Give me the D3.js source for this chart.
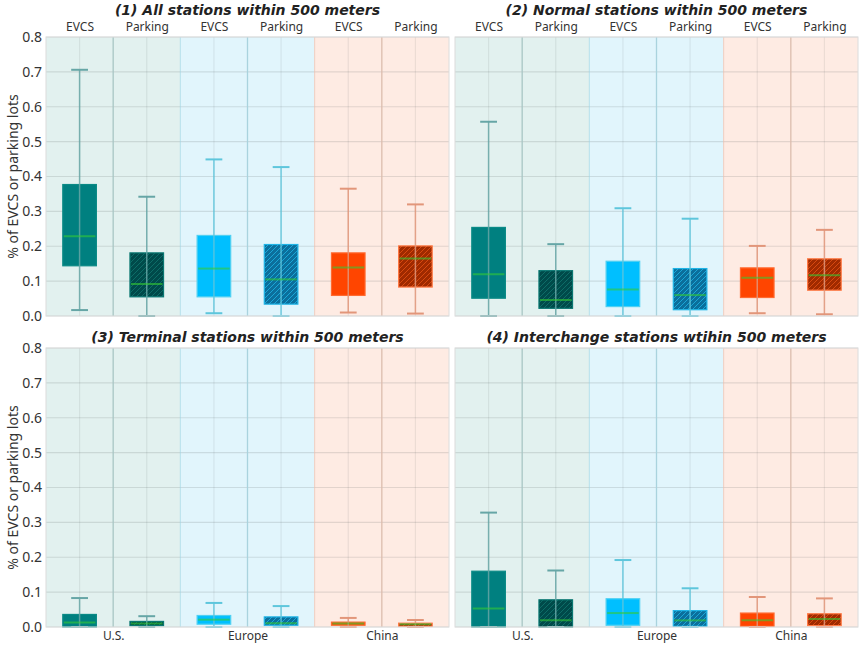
<!DOCTYPE html>
<html>
<head>
<meta charset="utf-8">
<script src="https://cdn.jsdelivr.net/npm/d3@7"></script>
<style>
  body { margin: 0; background: #fff; }
  svg text { font-family: "Noto Sans", sans-serif; }
</style>
</head>
<body>
<div id="chart"></div>
<script>
// regions and the two measures shown for each one
var regions = ["U.S.", "Europe", "China"];
var measures = ["EVCS", "Parking", "EVCS", "Parking", "EVCS", "Parking"];
var titles = [
  "(1) All stations within 500 meters",
  "(2) Normal stations within 500 meters",
  "(3) Terminal stations within 500 meters",
  "(4) Interchange stations wtihin 500 meters"
];
var yTicks = [0, 0.1, 0.2, 0.3, 0.4, 0.5, 0.6, 0.7, 0.8];

// box statistics, one row per panel, six boxes per row
var whiskerHi = [
  [0.706, 0.342, 0.449, 0.427, 0.365, 0.320],
  [0.557, 0.206, 0.309, 0.279, 0.201, 0.247],
  [0.083, 0.031, 0.069, 0.060, 0.026, 0.020],
  [0.328, 0.162, 0.192, 0.111, 0.086, 0.082]
];
var q3 = [
  [0.377, 0.181, 0.231, 0.205, 0.181, 0.201],
  [0.254, 0.130, 0.157, 0.136, 0.138, 0.164],
  [0.036, 0.016, 0.033, 0.029, 0.014, 0.011],
  [0.160, 0.078, 0.081, 0.047, 0.040, 0.038]
];
var median = [
  [0.229, 0.092, 0.136, 0.105, 0.139, 0.165],
  [0.120, 0.046, 0.076, 0.060, 0.110, 0.117],
  [0.013, 0.010, 0.021, 0.011, 0.010, 0.008],
  [0.053, 0.019, 0.040, 0.019, 0.019, 0.023]
];
var q1 = [
  [0.144, 0.055, 0.055, 0.034, 0.059, 0.083],
  [0.051, 0.022, 0.027, 0.018, 0.053, 0.074],
  [0.000, 0.004, 0.008, 0.005, 0.005, 0.002],
  [0.000, 0.000, 0.005, 0.002, 0.002, 0.004]
];
var whiskerLo = [
  [0.017, 0.000, 0.008, 0.000, 0.010, 0.007],
  [0.000, 0.000, 0.000, 0.000, 0.008, 0.005],
  [0.000, 0.000, 0.000, 0.000, 0.000, 0.000],
  [0.000, 0.000, 0.000, 0.000, 0.000, 0.000]
];

// styling per box
var boxFill   = ["#008080", "#004a4a", "#00bfff", "#0b6f9c", "#ff4500", "#a02a00"];
var boxEdge   = ["#0a8a86", "#0a7872", "#4fd0f2", "#1fb4e6", "#ff6a30", "#ff7a45"];
var hatchCol  = [null, "#0d6d68", null, "#1aa6d8", null, "#d84a10"];
var whiskCol  = ["#66a6a6", "#66a6a6", "#5ec6dc", "#5ec6dc", "#e2967a", "#e2967a"];
var bandFill  = ["#e2f1ef", "#e1f5fc", "#feebe3"];
var divCol    = ["#a9c6c4", "#a9d3de", "#dcbcae"];

var W = 865, H = 649;
var panels = [
  {x: 46, y: 37, w: 403, h: 279},
  {x: 455, y: 37, w: 403, h: 279},
  {x: 46, y: 348, w: 403, h: 279},
  {x: 455, y: 348, w: 403, h: 279}
];

var svg = d3.select("#chart").append("svg")
  .attr("width", W)
  .attr("height", H);

var defs = svg.append("defs");
hatchCol.forEach(function(c, i) {
  if (!c) return;
  var p = defs.append("pattern")
    .attr("id", "hatch" + i)
    .attr("patternUnits", "userSpaceOnUse")
    .attr("width", 5)
    .attr("height", 5);
  p.append("rect").attr("width", 5).attr("height", 5).attr("fill", boxFill[i]);
  p.append("path")
    .attr("d", "M-1,1 l2,-2 M0,5 l5,-5 M4,6 l2,-2")
    .attr("stroke", c)
    .attr("stroke-width", 1);
});

panels.forEach(function(pn, k) {
  var g = svg.append("g")
    .attr("transform", "translate(" + pn.x + "," + pn.y + ")");

  var x = d3.scaleLinear().domain([0.5, 6.5]).range([0, pn.w]);
  var y = d3.scaleLinear().domain([0, 0.8]).range([pn.h, 0]);

  // coloured bands behind each region
  g.selectAll(".band")
    .data(regions)
    .enter()
    .append("rect")
    .attr("x", function(d, i) { return x(0.5 + i * 2); })
    .attr("y", 0)
    .attr("width", x(2.5) - x(0.5))
    .attr("height", pn.h)
    .attr("fill", function(d, i) { return bandFill[i]; });

  // horizontal grid
  g.selectAll(".hgrid")
    .data(yTicks)
    .enter()
    .append("line")
    .attr("x1", 0).attr("x2", pn.w)
    .attr("y1", function(d) { return y(d); })
    .attr("y2", function(d) { return y(d); })
    .attr("stroke", "rgba(80,90,90,0.16)")
    .attr("stroke-width", 1.2);

  // light grid at each box position
  g.selectAll(".vgrid")
    .data(measures)
    .enter()
    .append("line")
    .attr("x1", function(d, i) { return x(i + 1); })
    .attr("x2", function(d, i) { return x(i + 1); })
    .attr("y1", 0).attr("y2", pn.h)
    .attr("stroke", "rgba(80,90,90,0.1)")
    .attr("stroke-width", 1.2);

  // region dividers and band edges
  [1.5, 3.5, 5.5].forEach(function(v, i) {
    g.append("line")
      .attr("x1", x(v)).attr("x2", x(v))
      .attr("y1", 0).attr("y2", pn.h)
      .attr("stroke", divCol[i])
      .attr("stroke-width", 1.3);
  });
  [2.5, 4.5].forEach(function(v, i) {
    g.append("line")
      .attr("x1", x(v)).attr("x2", x(v))
      .attr("y1", 0).attr("y2", pn.h)
      .attr("stroke", i == 0 ? "rgba(150,210,225,0.6)" : "rgba(240,190,170,0.7)")
      .attr("stroke-width", 1);
  });

  var data = measures.map(function(m, i) {
    return {
      pos: i + 1,
      idx: i,
      lo: whiskerLo[k][i],
      q1: q1[k][i],
      med: median[k][i],
      q3: q3[k][i],
      hi: whiskerHi[k][i]
    };
  });

  var boxW = x(1.5) - x(1);
  var capW = boxW / 2;

  // boxes
  g.selectAll(".box")
    .data(data)
    .enter()
    .append("rect")
    .attr("class", "box")
    .attr("x", function(d) { return x(d.pos) - boxW / 2; })
    .attr("y", function(d) { return y(d.q3); })
    .attr("width", boxW)
    .attr("height", function(d) { return Math.max(y(d.q1) - y(d.q3), 1); })
    .attr("fill", function(d) { return hatchCol[d.idx] ? "url(#hatch" + d.idx + ")" : boxFill[d.idx]; })
    .attr("stroke", function(d) { return boxEdge[d.idx]; })
    .attr("stroke-width", 1.2);

  // whisker line through the box
  g.selectAll(".whisk")
    .data(data)
    .enter()
    .append("line")
    .attr("x1", function(d) { return x(d.pos); })
    .attr("x2", function(d) { return x(d.pos); })
    .attr("y1", function(d) { return y(d.lo); })
    .attr("y2", function(d) { return y(d.hi); })
    .attr("stroke", function(d) { return whiskCol[d.idx]; })
    .attr("stroke-opacity", 0.85)
    .attr("stroke-width", 1.5);

  // caps
  ["lo", "hi"].forEach(function(key) {
    g.selectAll(".cap" + key)
      .data(data)
      .enter()
      .append("line")
      .attr("x1", function(d) { return x(d.pos) - capW / 2; })
      .attr("x2", function(d) { return x(d.pos) + capW / 2; })
      .attr("y1", function(d) { return y(d[key]); })
      .attr("y2", function(d) { return y(d[key]); })
      .attr("stroke", function(d) { return whiskCol[d.idx]; })
      .attr("stroke-width", 2);
  });

  // medians
  g.selectAll(".med")
    .data(data)
    .enter()
    .append("line")
    .attr("x1", function(d) { return x(d.pos) - boxW / 2 + 1; })
    .attr("x2", function(d) { return x(d.pos) + boxW / 2 - 1; })
    .attr("y1", function(d) { return y(d.med); })
    .attr("y2", function(d) { return y(d.med); })
    .attr("stroke", "#33cc33")
    .attr("stroke-opacity", 0.6)
    .attr("stroke-width", 2);

  // frame
  g.append("rect")
    .attr("width", pn.w)
    .attr("height", pn.h)
    .attr("fill", "none")
    .attr("stroke", "#dcdcdc")
    .attr("stroke-width", 1);

  // y axis labels on the left panels only
  if (k % 2 == 0) {
    var yAxis = d3.axisLeft(y).tickValues(yTicks).tickFormat(d3.format(".1f")).tickSize(0).tickPadding(4);
    var ya = g.append("g").call(yAxis);
    ya.select(".domain").remove();
    ya.selectAll("text")
      .attr("fill", "#333")
      .style("font-size", "14px");

    g.append("text")
      .attr("transform", "translate(" + (13 - pn.x) + "," + (pn.h / 2) + ") rotate(-90)")
      .attr("text-anchor", "middle")
      .attr("dy", "0.35em")
      .attr("fill", "#333")
      .style("font-size", "14px")
      .text("% of EVCS or parking lots");
  }

  if (k < 2) {
    var top = d3.axisTop(x).tickValues([1, 2, 3, 4, 5, 6])
      .tickFormat(function(d) { return measures[d - 1]; })
      .tickSize(0).tickPadding(6);
    var ta = g.append("g").call(top);
    ta.select(".domain").remove();
    ta.selectAll("text").attr("fill", "#333").style("font-size", "12px");
  } else {
    var bottom = d3.axisBottom(x).tickValues([1.5, 3.5, 5.5])
      .tickFormat(function(d, i) { return regions[i]; })
      .tickSize(0).tickPadding(4);
    var ba = g.append("g").attr("transform", "translate(0," + pn.h + ")").call(bottom);
    ba.select(".domain").remove();
    ba.selectAll("text").attr("fill", "#333").style("font-size", "12px");
  }

  g.append("text")
    .attr("x", pn.w / 2)
    .attr("y", k < 2 ? -22 : -6)
    .attr("text-anchor", "middle")
    .attr("fill", "#222")
    .style("font-family", "DejaVu Sans, sans-serif")
    .style("font-weight", "bold")
    .style("font-style", "italic")
    .style("font-size", "14px")
    .text(titles[k]);
});
</script>
</body>
</html>
